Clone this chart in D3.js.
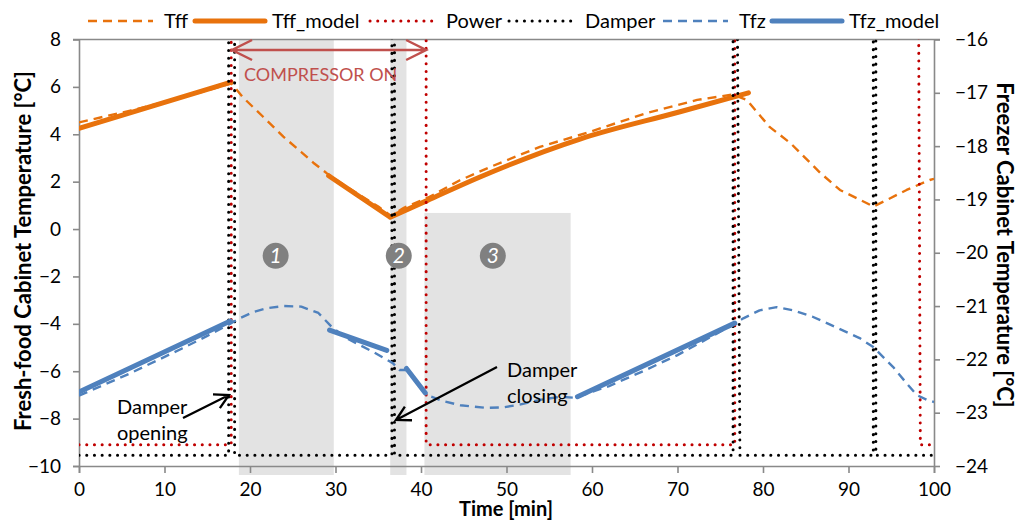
<!DOCTYPE html>
<html>
<head>
<meta charset="utf-8">
<script src="https://cdn.jsdelivr.net/npm/d3@7/dist/d3.min.js"></script>
<style>
body { margin: 0; background: #fff; }
svg { font-family: Lato, "Open Sans", sans-serif; }
</style>
</head>
<body>
<div class="chart"></div>
<script>
// data: [time min, temperature]
var tff = [[0,4.5],[3,4.75],[6,5.0],[9,5.27],[12,5.55],[15,5.85],[17.8,6.15],[19.2,5.55],[21.5,4.75],[23.9,3.9],
	[26,3.25],[27.4,2.8],[29,2.35],[31,1.85],[33,1.4],[35,0.95],[36.5,0.55],[38,0.9],[41,1.36],[44.5,2.05],
	[48.1,2.62],[53.9,3.47],[59.4,4.06],[66.4,4.9],[72.3,5.45],[76.5,5.68],[78.1,5.45],[80.8,4.3],[83.2,3.63],
	[86.7,2.37],[89,1.65],[92.1,1.1],[92.9,0.95],[94.5,1.23],[96.8,1.65],[99.5,2.07],[100,2.12]];
var tffModel = [[0,4.25],[17.8,6.2],null,[29.2,2.25],[36.4,0.5],null,[36.4,0.5],[40.7,1.2],[46.9,2.2],[58.6,3.8],[70.3,4.95],[78.3,5.75]];
var tfz = [[0,-22.68],[3,-22.47],[6,-22.26],[9,-22.03],[12,-21.8],[15,-21.56],[17.7,-21.33],[18.8,-21.23],
	[20.4,-21.11],[22,-21.04],[24,-21.0],[26,-21.01],[28,-21.13],[29.5,-21.38],[31,-21.58],[34.4,-21.86],
	[36.7,-22.07],[37.5,-22.2],[38.5,-22.2],[40.7,-22.67],[42.5,-22.78],[44.6,-22.86],[47.7,-22.91],[49.6,-22.9],
	[51.5,-22.85],[53.9,-22.76],[56.3,-22.7],[58,-22.72],[62,-22.5],[66,-22.22],[70,-21.92],[74,-21.57],
	[76.7,-21.33],[77.7,-21.23],[79.6,-21.08],[81.6,-21.02],[83.5,-21.08],[85.8,-21.2],[88.7,-21.41],[91.3,-21.6],
	[92.9,-21.77],[95.2,-22.14],[96.8,-22.45],[98,-22.67],[99.2,-22.76],[100,-22.8]];
var tfzModel = [[0,-22.61],[17.7,-21.28],null,[29.3,-21.45],[36.0,-21.83],null,[38.3,-22.17],[40.5,-22.63],null,[58.3,-22.7],[76.7,-21.32]];
var power = [[0,-9.1],[17.8,-9.1],[17.8,9],[40.6,9],[40.6,-9.1],[76.7,-9.1],[76.7,9],[98.2,9],[98.4,-9.1],[100,-9.1]];
var damper = [[0,-9.55],[17.5,-9.55],[17.5,9],[18.2,9],[18.2,-9.55],[36.6,-9.55],[36.6,9],[36.9,9],[36.9,-9.55],
	[76.5,-9.55],[76.5,9],[77.0,9],[77.3,-9.55],[92.9,-9.55],[92.9,9],[93.2,9],[93.2,-9.55],[100,-9.55]];

var xTicks = [0,10,20,30,40,50,60,70,80,90,100];
var yLeftTicks = [-10,-8,-6,-4,-2,0,2,4,6,8];
var yRightTicks = [-24,-23,-22,-21,-20,-19,-18,-17,-16];

// shaded phases [start, end, top (left axis)] and their markers
var phases = [[18.7,29.8,8],[36.4,38.3,8],[40.4,57.5,0.68]];
var phaseLabels = [["1",23.0],["2",37.4],["3",48.4]];

var svg_w = 1017, svg_h = 521;
var svg = d3.select("div.chart").append("svg")
.attr("width", svg_w)
.attr("height", svg_h);

var x = d3.scaleLinear().domain([0, 100]).range([79, 934]);
var yL = d3.scaleLinear().domain([-10, 8]).range([466, 39.5]);
var yR = d3.scaleLinear().domain([-24, -16]).range([466, 39.5]);

var ORANGE = "#E8720C", BLUE = "#4F81BD", RED = "#C00000", AXIS = "#898989", NOTE = "#C0504D";

svg.append("clipPath").attr("id", "plot")
.append("rect").attr("x", 79).attr("y", 39.5).attr("width", 855).attr("height", 436);

// gray phase boxes
svg.append("g").selectAll("rect")
.data(phases)
.enter()
.append("rect")
.attr("x", function(d) { return x(d[0]); })
.attr("width", function(d) { return x(d[1]) - x(d[0]); })
.attr("y", function(d) { return yL(d[2]); })
.attr("height", function(d) { return yL(-10.38) - yL(d[2]); })
.attr("fill", "#e3e3e3");

// axes
var axB = svg.append("g").attr("transform", "translate(0,466)")
.call(d3.axisBottom(x).tickValues(xTicks).tickSize(7).tickPadding(10).tickSizeOuter(0));
var axL = svg.append("g").attr("transform", "translate(79,0)")
.call(d3.axisLeft(yL).tickValues(yLeftTicks).tickSize(6).tickPadding(12).tickSizeOuter(0));
var axR = svg.append("g").attr("transform", "translate(934,0)")
.call(d3.axisRight(yR).tickValues(yRightTicks).tickSize(6).tickPadding(15).tickSizeOuter(0));
[axB, axL, axR].forEach(function(a) {
	a.selectAll("path, line").attr("stroke", AXIS).attr("stroke-width", 1.6);
	a.selectAll("text").attr("fill", "#000").style("font-size", "19px").style("font-family", "Lato");
});
axB.select("path").attr("d", "M73,0.5H934");
axL.select("path").attr("d", "M0.5,39.5V473");
axR.select("path").attr("d", "M0.5,39.5V473");
svg.append("line").attr("x1", 73).attr("x2", 940).attr("y1", 39.5).attr("y2", 39.5)
.attr("stroke", AXIS).attr("stroke-width", 1.6);

// axis titles
svg.append("text").attr("x", 506).attr("y", 516).attr("text-anchor", "middle")
.style("font-size", "20px").style("font-weight", "bold").text("Time [min]");
svg.append("text").attr("transform", "translate(22,251) rotate(-90)").attr("text-anchor", "middle")
.attr("dominant-baseline", "central")
.style("font-size", "22px").style("font-weight", "bold").text("Fresh-food Cabinet Temperature [°C]");
svg.append("text").attr("transform", "translate(1005,245) rotate(90)").attr("text-anchor", "middle")
.attr("dominant-baseline", "central")
.style("font-size", "22px").style("font-weight", "bold").text("Freezer Cabinet Temperature [°C]");

// series
var lineL = d3.line().defined(function(d) { return d !== null; })
.x(function(d) { return x(d[0]); }).y(function(d) { return yL(d[1]); });
var lineR = d3.line().defined(function(d) { return d !== null; })
.x(function(d) { return x(d[0]); }).y(function(d) { return yR(d[1]); });
var curveL = d3.line().defined(function(d) { return d !== null; }).curve(d3.curveMonotoneX)
.x(function(d) { return x(d[0]); }).y(function(d) { return yL(d[1]); });

var styles = {
	Tff: { color: ORANGE, width: 2.4, dash: "9 6", cap: "butt" },
	Tff_model: { color: ORANGE, width: 5, dash: null, cap: "round" },
	Power: { color: RED, width: 3, dash: "0.1 7.6", cap: "round" },
	Damper: { color: "#000", width: 3, dash: "0.1 7.6", cap: "round" },
	Tfz: { color: BLUE, width: 2.4, dash: "9 6", cap: "butt" },
	Tfz_model: { color: BLUE, width: 5, dash: null, cap: "round" }
};
var series = [
	{ name: "Tff", data: tff, line: lineL },
	{ name: "Tff_model", data: tffModel, line: curveL },
	{ name: "Power", data: power, line: lineL },
	{ name: "Damper", data: damper, line: lineL },
	{ name: "Tfz", data: tfz, line: lineR },
	{ name: "Tfz_model", data: tfzModel, line: lineR }
];

var plotG = svg.append("g").attr("clip-path", "url(#plot)");
plotG.selectAll("path")
.data(series)
.enter()
.append("path")
.attr("d", function(d) { return d.line(d.data); })
.attr("fill", "none")
.attr("stroke", function(d) { return styles[d.name].color; })
.attr("stroke-width", function(d) { return styles[d.name].width; })
.attr("stroke-dasharray", function(d) { return styles[d.name].dash; })
.attr("stroke-linecap", function(d) { return styles[d.name].cap; })
.attr("stroke-linejoin", "round");

// legend
var legendX = [88, 195, 370, 509, 663, 772];
var legend = svg.append("g").selectAll("g")
.data(series)
.enter()
.append("g")
.attr("transform", function(d, i) { return "translate(" + legendX[i] + ",21)"; });
legend.append("line")
.attr("x1", 0).attr("x2", function(d, i) { return i == 1 || i == 5 ? 70 : 65; })
.attr("stroke", function(d) { return styles[d.name].color; })
.attr("stroke-width", function(d) { return styles[d.name].width; })
.attr("stroke-dasharray", function(d) { return styles[d.name].dash; })
.attr("stroke-linecap", function(d) { return styles[d.name].cap; });
legend.append("text")
.attr("x", function(d, i) { return i == 1 || i == 5 ? 77 : 76; })
.attr("dy", "0.35em")
.style("font-size", "20px")
.text(function(d) { return d.name; });

// compressor on arrow
var notes = svg.append("g");
var ay = 50, ax1 = x(17.9), ax2 = x(40.6);
notes.append("path")
.attr("d", "M" + ax1 + "," + ay + "H" + ax2 +
	"M" + (ax1 + 20) + "," + (ay - 10) + "L" + ax1 + "," + ay + "L" + (ax1 + 20) + "," + (ay + 10) +
	"M" + (ax2 - 20) + "," + (ay - 10) + "L" + ax2 + "," + ay + "L" + (ax2 - 20) + "," + (ay + 10))
.attr("fill", "none").attr("stroke", NOTE).attr("stroke-width", 2.5);
notes.append("text").attr("x", 244).attr("y", 75).attr("dy", "0.35em")
.attr("fill", NOTE).style("font-size", "18px").text("COMPRESSOR ON");

// phase markers
var marks = notes.selectAll("g.mark")
.data(phaseLabels)
.enter()
.append("g")
.attr("class", "mark")
.attr("transform", function(d) { return "translate(" + x(d[1]) + "," + yL(-1.13) + ")"; });
marks.append("circle").attr("r", 13).attr("fill", "#808080");
marks.append("text").attr("text-anchor", "middle").attr("dy", "0.36em")
.attr("fill", "#fff").style("font-size", "21px").style("font-style", "italic")
.text(function(d) { return d[0]; });

// damper notes
function arrow(x1, y1, x2, y2) {
	var a = Math.atan2(y2 - y1, x2 - x1), L = 16, s = 0.5;
	return "M" + x1 + "," + y1 + "L" + x2 + "," + y2 +
		"M" + (x2 - L * Math.cos(a - s)) + "," + (y2 - L * Math.sin(a - s)) + "L" + x2 + "," + y2 +
		"L" + (x2 - L * Math.cos(a + s)) + "," + (y2 - L * Math.sin(a + s));
}
notes.append("path").attr("d", arrow(183, 418, 229, 395))
.attr("fill", "none").attr("stroke", "#000").attr("stroke-width", 2.3);
notes.append("path").attr("d", arrow(497, 367, 396, 420))
.attr("fill", "none").attr("stroke", "#000").attr("stroke-width", 2.3);
notes.append("text").attr("x", 117).attr("y", 414).style("font-size", "20px").text("Damper");
notes.append("text").attr("x", 117).attr("y", 440).style("font-size", "20px").text("opening");
notes.append("text").attr("x", 507).attr("y", 377).style("font-size", "20px").text("Damper");
notes.append("text").attr("x", 507).attr("y", 403).style("font-size", "20px").text("closing");
</script>
</body>
</html>
